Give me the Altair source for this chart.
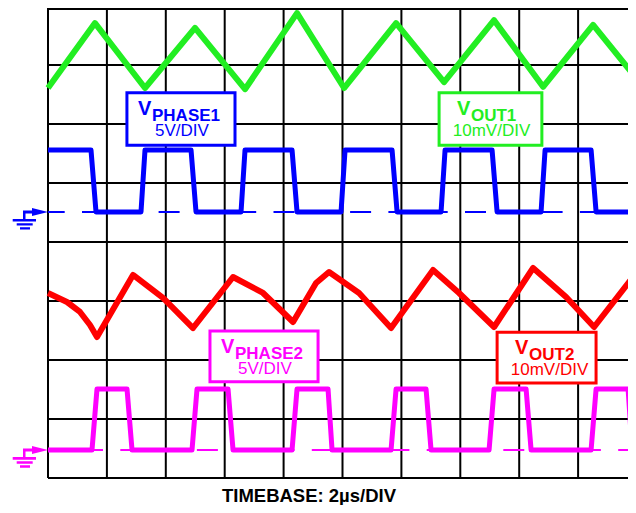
import altair as alt
import pandas as pd

# ---------------- data (x in µs, 2 µs/DIV ; y in screen divisions 0..8) ----------------
vout1_t = [0, 1.596, 3.294, 4.992, 6.690, 8.456, 10.053, 11.819, 13.449, 15.147, 16.811, 18.509, 19.969]
vout1_v = [6.61, 7.71, 6.61, 7.63, 6.59, 7.88, 6.61, 7.71, 6.71, 7.76, 6.63, 7.68, 6.78]

P1_HI, P1_LO = 5.56, 4.51
phase1_t = [0, 1.460, 1.630, 3.158, 3.294, 4.857, 5.026, 6.555, 6.690, 8.287, 8.456, 9.951,
            10.087, 11.683, 11.853, 13.347, 13.483, 15.079, 15.249, 16.743, 16.879, 18.441,
            18.611, 19.969]
phase1_v = [P1_HI, P1_HI, P1_LO, P1_LO] * 6

vout2_t = [0, 0.645, 1.087, 1.426, 1.664, 2.887, 3.906, 4.924, 6.283, 7.302, 8.321, 9.102,
           9.543, 10.562, 11.649, 13.075, 13.958, 15.147, 16.471, 17.592, 18.543, 19.969]
vout2_v = [3.136, 2.983, 2.814, 2.593, 2.390, 3.441, 3.051, 2.542, 3.407, 3.136, 2.644, 3.305,
           3.492, 3.136, 2.542, 3.525, 3.136, 2.559, 3.559, 3.068, 2.559, 3.475]

P2_HI, P2_LO = 1.508, 0.475
phase2_t = [0, 1.494, 1.664, 2.683, 2.853, 4.890, 5.060, 6.113, 6.283, 8.287, 8.456, 9.509,
            9.645, 11.649, 11.819, 12.837, 13.007, 14.977, 15.147, 16.234, 16.404, 18.441,
            18.611, 19.698, 19.834, 19.969]
phase2_v = [P2_LO, P2_LO, P2_HI, P2_HI] * 6 + [P2_LO, P2_LO]

GREEN, BLUE, RED, MAGENTA = "#22ee22", "#0000ff", "#ff0000", "#ff00ff"

grid_t = [0, 2, 4, 6, 8, 10, 12, 14, 16, 18, 20]
grid_v = [0, 1, 2, 3, 4, 5, 6, 7, 8]

ground_v = [P1_LO, P2_LO]
ground_c = [BLUE, MAGENTA]

# label boxes
box_t1 = [2.68, 13.28, 5.50, 15.25]
box_t2 = [6.35, 16.77, 9.17, 18.61]
box_v1 = [6.53, 6.53, 2.49, 2.47]
box_v2 = [5.64, 5.64, 1.63, 1.61]
box_c = [BLUE, GREEN, MAGENTA, RED]

v_t = [3.056, 13.888, 5.874, 15.857]
v_v = [6.153, 6.153, 2.119, 2.102]
sub_text = ["PHASE1", "OUT1", "PHASE2", "OUT2"]
sub_t = [3.531, 14.363, 6.35, 16.333]
sub_v = [6.051, 6.051, 2.017, 2.0]
scale_text = ["5V/DIV", "10mV/DIV", "5V/DIV", "10mV/DIV"]
scale_t = [4.55, 15.06, 7.368, 17.03]
scale_v = [5.797, 5.80, 1.763, 1.746]

title_text = "TIMEBASE: 2µs/DIV"
title_t, title_v = 8.862, -0.407

# ---------------- chart ----------------
XS = alt.Scale(domain=[0, 20], range=[0, 589])
YS = alt.Scale(domain=[0, 8], range=[470, -2])
FONT = "Liberation Sans"


def X(f):
    return alt.X(f"{f}:Q", scale=XS, axis=None)


def Y(f):
    return alt.Y(f"{f}:Q", scale=YS, axis=None)


vg = pd.DataFrame({"t": grid_t, "a": 0, "b": 8})
hg = pd.DataFrame({"v": grid_v, "a": 0, "b": 20})
vgrid = alt.Chart(vg).mark_rule(color="black", strokeWidth=2).encode(
    x=X("t"), y=Y("a"), y2="b")
hgrid = alt.Chart(hg).mark_rule(color="black", strokeWidth=2).encode(
    y=Y("v"), x=X("a"), x2="b")
topline = alt.Chart(hg.head(1)).mark_rule(color="black", strokeWidth=2).encode(
    x=alt.value(0), x2=alt.value(589), y=alt.value(1))

gdf = pd.DataFrame({"v": ground_v, "c": ground_c, "a": 0, "b": 20})
dash = alt.Chart(gdf).mark_rule(strokeWidth=2, strokeDash=[21, 17.3], strokeDashOffset=4.3).encode(
    y=Y("v"), x=X("a"), x2="b", color=alt.Color("c:N", scale=None))


def trace(t, v, col, w):
    df = pd.DataFrame({"t": t, "v": v, "i": range(len(t))})
    return alt.Chart(df).mark_line(color=col, strokeWidth=w, strokeJoin="round").encode(
        x=X("t"), y=Y("v"), order="i:Q")


tr1 = trace(vout1_t, vout1_v, GREEN, 6)
tr2 = trace(phase1_t, phase1_v, BLUE, 5)
tr3 = trace(vout2_t, vout2_v, RED, 6)
tr4 = trace(phase2_t, phase2_v, MAGENTA, 5)

bdf = pd.DataFrame({"t1": box_t1, "t2": box_t2, "v1": box_v1, "v2": box_v2, "c": box_c})
boxes = alt.Chart(bdf).mark_rect(fill="white", strokeWidth=3).encode(
    x=X("t1"), x2="t2", y=Y("v1"), y2="v2", stroke=alt.Stroke("c:N", scale=None))

ldf = pd.DataFrame({"vt": v_t, "vv": v_v, "s": sub_text, "st": sub_t, "sv": sub_v,
                    "k": scale_text, "kt": scale_t, "kv": scale_v, "c": box_c, "V": "V"})
txt_v = alt.Chart(ldf).mark_text(font=FONT, fontSize=20, fontWeight="bold", align="left",
                                 baseline="alphabetic").encode(
    x=X("vt"), y=Y("vv"), text="V:N", color=alt.Color("c:N", scale=None))
txt_s = alt.Chart(ldf).mark_text(font=FONT, fontSize=17, fontWeight="bold", align="left",
                                 baseline="alphabetic").encode(
    x=X("st"), y=Y("sv"), text="s:N", color=alt.Color("c:N", scale=None))
txt_k = alt.Chart(ldf).mark_text(font=FONT, fontSize=17, align="center",
                                 baseline="alphabetic").encode(
    x=X("kt"), y=Y("kv"), text="k:N", color=alt.Color("c:N", scale=None))

GROUND_PATH = ("M0,0 L-16,-4 L-16,4 Z "
               "M-25,-1.5 L-16,-1.5 L-16,1.5 L-25,1.5 Z "
               "M-25,-1.5 L-22.5,-1.5 L-22.5,7.5 L-25,7.5 Z "
               "M-35.3,7 L-12,7 L-12,9.7 L-35.3,9.7 Z "
               "M-31.3,11.3 L-15.3,11.3 L-15.3,13.7 L-31.3,13.7 Z "
               "M-28,15.3 L-18,15.3 L-18,17.7 L-28,17.7 Z")
gsym = alt.Chart(gdf).mark_point(shape=GROUND_PATH, size=4, filled=True, opacity=1,
                                 strokeWidth=0).encode(
    x=X("a"), y=Y("v"), color=alt.Color("c:N", scale=None))

tdf = pd.DataFrame({"t": [title_t], "v": [title_v], "s": [title_text]})
title = alt.Chart(tdf).mark_text(font=FONT, fontSize=18.5, fontWeight="bold", align="center",
                                 baseline="alphabetic", color="black").encode(
    x=X("t"), y=Y("v"), text="s:N")

chart = alt.layer(vgrid, hgrid, topline, dash, tr1, tr2, tr3, tr4, boxes, txt_v, txt_s, txt_k,
                  gsym, title).properties(
    width=580, height=470,
    padding={"left": 40, "right": 0, "top": 0, "bottom": 27},
    autosize=alt.AutoSizeParams(type="none"),
    background="white",
).configure_view(stroke=None)

chart.save("out.html", embed_options={"renderer": "svg", "actions": False})
